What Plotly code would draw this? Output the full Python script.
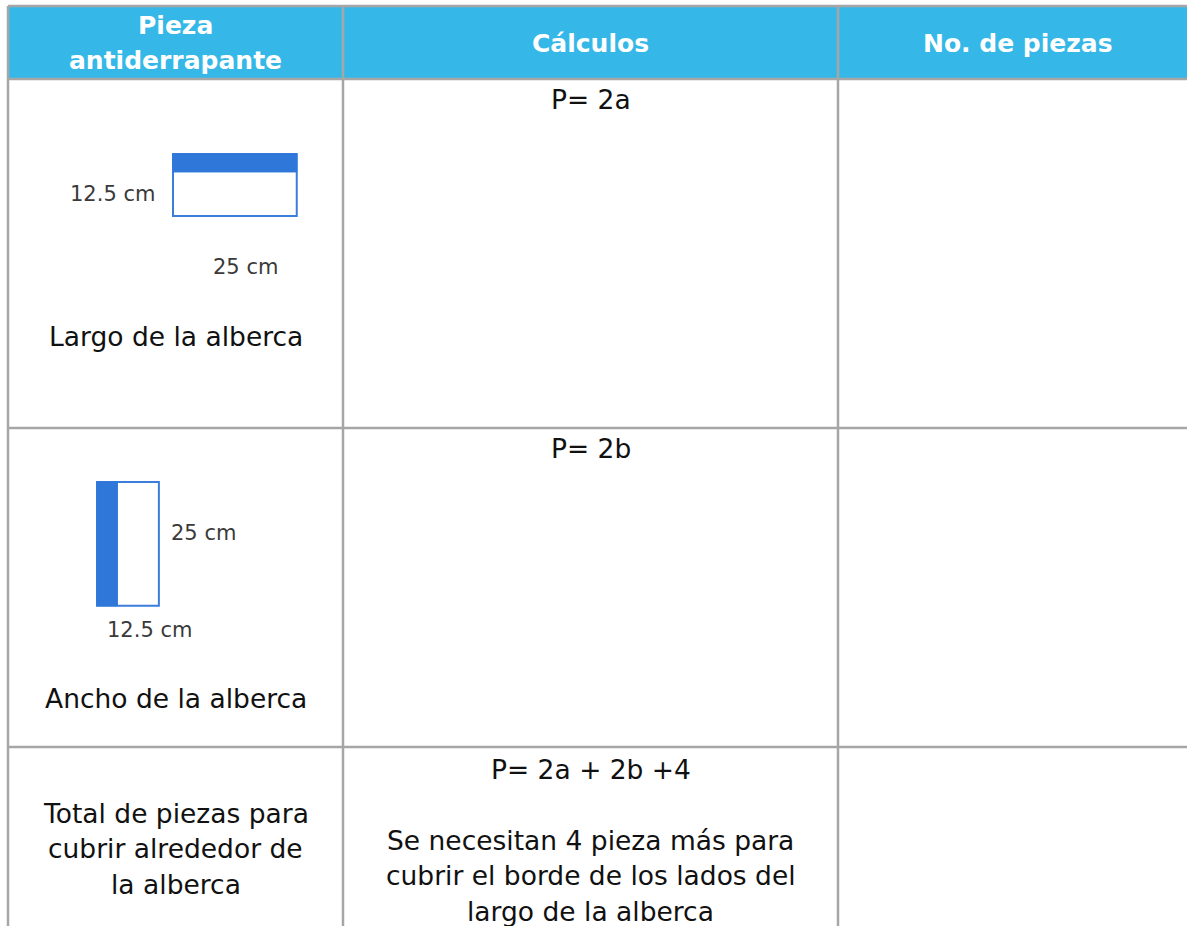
import plotly.graph_objects as go

# ---------------- data ----------------
headers = ["Pieza<br>antiderrapante", "Cálculos", "No. de piezas"]
row_labels = ["Largo de la alberca", "Ancho de la alberca",
              "Total de piezas para<br>cubrir alrededor de<br>la alberca"]
calculations = ["P= 2a", "P= 2b",
                "P= 2a + 2b +4<br> <br>Se necesitan 4 pieza más para<br>cubrir el borde de los lados del<br>largo de la alberca"]
num_pieces = ["", "", ""]
tile_long_cm = 25
tile_short_cm = 12.5
tile_labels = ["25 cm", "12.5 cm"]

# ---------------- layout geometry (pixels) ----------------
W, H = 1187, 926
col_edges = [8, 343, 838, 1200]
row_edges = [6, 79, 428, 747, 960]
GRID = "#A6A6A6"
HEAD = "#35B8E8"
TILE_LINE = "#3A7DDB"
TILE_FILL = "#2F77D9"
FONT = "DejaVu Sans"
LINE_H = 35.5
BODY = 26.5
SMALL = 21
HEADSZ = 25

fig = go.Figure()
fig.add_trace(go.Scatter(x=[0], y=[0], mode="markers", marker=dict(opacity=0), hoverinfo="skip", showlegend=False))

shapes = []
annotations = []

# header band
shapes.append(dict(type="rect", x0=col_edges[0], x1=col_edges[-1], y0=row_edges[0], y1=row_edges[1],
                   fillcolor=HEAD, line=dict(width=0), layer="below"))

# grid lines
for y in row_edges[:-1]:
    shapes.append(dict(type="line", x0=col_edges[0], x1=col_edges[-1], y0=y, y1=y,
                       line=dict(color=GRID, width=2.5)))
for x in col_edges[:-1]:
    shapes.append(dict(type="line", x0=x, x1=x, y0=row_edges[0], y1=row_edges[-1],
                       line=dict(color=GRID, width=2.5)))


def add_lines(text, cx, y_first, size, color="#111111", bold=False):
    for i, line in enumerate(text.split("<br>")):
        if line.strip() == "":
            continue
        annotations.append(dict(x=cx, y=y_first + i * LINE_H, text=line, showarrow=False,
                                xanchor="center", yanchor="middle",
                                font=dict(family=FONT, size=size, color=color,
                                          weight="bold" if bold else "normal")))


col_centers = [(col_edges[i] + col_edges[i + 1]) / 2 for i in range(3)]
col_centers[2] = 1018

# headers
add_lines(headers[0], col_centers[0], 25, HEADSZ, "white", True)
add_lines(headers[1], col_centers[1], 43, HEADSZ, "white", True)
add_lines(headers[2], col_centers[2], 43, HEADSZ, "white", True)

# row label positions
label_y = [336, 698, 813]
calc_y = [99, 448, 769]
for i in range(3):
    add_lines(row_labels[i], col_centers[0], label_y[i], BODY)
    add_lines(calculations[i], col_centers[1], calc_y[i], BODY)
    add_lines(num_pieces[i], col_centers[2], calc_y[i], BODY)

# tile drawings (scaled from cm)
scale = 4.95
# horizontal tile (largo)
tx0, ty0 = 173, 154
tw, th = tile_long_cm * scale, tile_short_cm * scale
shapes.append(dict(type="rect", x0=tx0, x1=tx0 + tw, y0=ty0, y1=ty0 + th,
                   fillcolor="white", line=dict(color=TILE_LINE, width=2)))
shapes.append(dict(type="rect", x0=tx0, x1=tx0 + tw, y0=ty0, y1=ty0 + th * 0.29,
                   fillcolor=TILE_FILL, line=dict(color=TILE_FILL, width=1)))
annotations.append(dict(x=tx0 - 16, y=ty0 + 40, text=tile_labels[1], showarrow=False, xanchor="right",
                        yanchor="middle", font=dict(family=FONT, size=SMALL, color="#3A3A3A")))
annotations.append(dict(x=245, y=267, text=tile_labels[0], showarrow=False, xanchor="center",
                        yanchor="middle", font=dict(family=FONT, size=SMALL, color="#3A3A3A")))

# vertical tile (ancho)
vx0, vy0 = 97, 482
vw, vh = tile_short_cm * scale, tile_long_cm * scale
shapes.append(dict(type="rect", x0=vx0, x1=vx0 + vw, y0=vy0, y1=vy0 + vh,
                   fillcolor="white", line=dict(color=TILE_LINE, width=2)))
shapes.append(dict(type="rect", x0=vx0, x1=vx0 + vw * 0.33, y0=vy0, y1=vy0 + vh,
                   fillcolor=TILE_FILL, line=dict(color=TILE_FILL, width=1)))
annotations.append(dict(x=vx0 + vw + 10, y=533, text=tile_labels[0], showarrow=False, xanchor="left",
                        yanchor="middle", font=dict(family=FONT, size=SMALL, color="#3A3A3A")))
annotations.append(dict(x=149, y=630, text=tile_labels[1], showarrow=False, xanchor="center",
                        yanchor="middle", font=dict(family=FONT, size=SMALL, color="#3A3A3A")))

fig.update_layout(
    width=W, height=H, margin=dict(l=0, r=0, t=0, b=0),
    paper_bgcolor="white", plot_bgcolor="white",
    xaxis=dict(range=[0, W], visible=False, fixedrange=True),
    yaxis=dict(range=[H, 0], visible=False, fixedrange=True),
    shapes=shapes, annotations=annotations, showlegend=False,
)

fig.write_html("out.html", config={"displayModeBar": False},
               post_script="document.body.style.margin='0';document.body.style.overflow='hidden';")
